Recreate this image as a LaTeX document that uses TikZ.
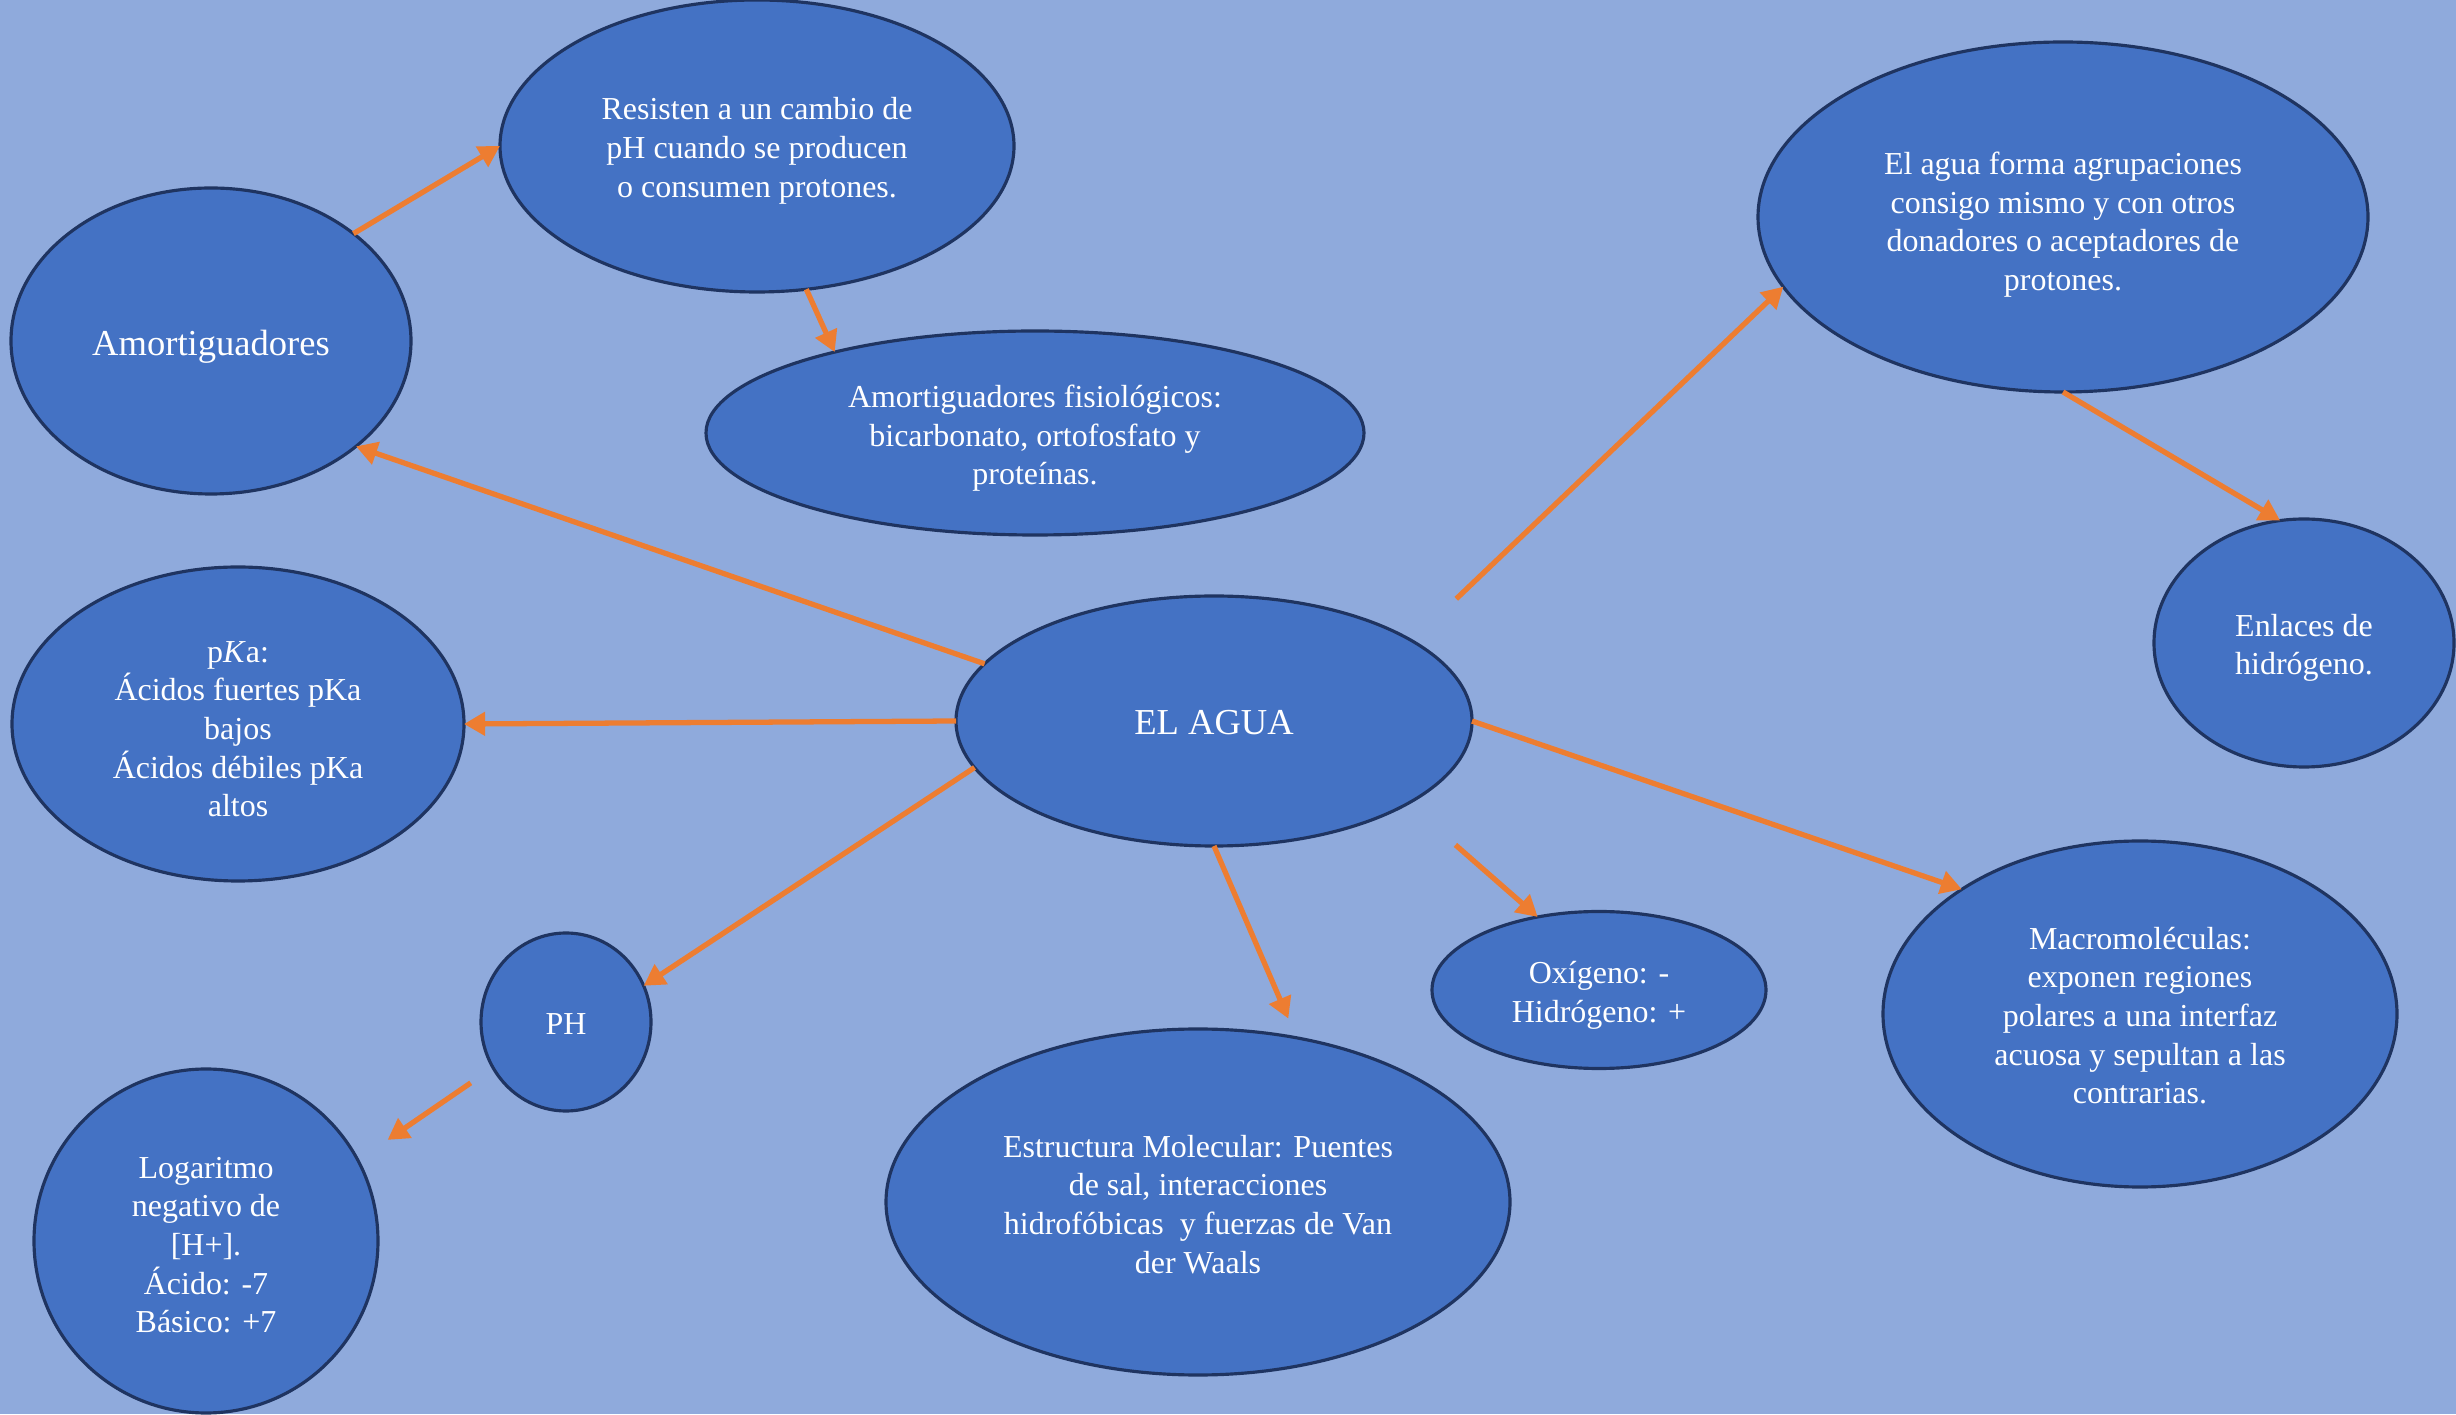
\documentclass[tikz,border=0pt]{standalone}
\usepackage{fontspec}
\setmainfont{Liberation Serif}
\usetikzlibrary{shapes.geometric,arrows.meta}
\definecolor{bg}{HTML}{8FAADC}
\definecolor{bub}{HTML}{4472C4}
\definecolor{edge}{HTML}{1F3461}
\definecolor{arr}{HTML}{ED7D31}
\newcommand\mynudge[1]{\rule{0pt}{#1}}
\begin{document}
\begin{tikzpicture}[
  bubble/.style={ellipse, draw=edge, line width=0.9pt, fill=bub, text=white,
    inner sep=0pt, outer sep=0pt, align=center,
    font=\fontsize{9.1}{11}\selectfont},
  big/.style={font=\fontsize{10.4}{12}\selectfont},
  link/.style={draw=arr, line width=1.5pt, -{Triangle[length=6pt,width=6.5pt]}}
]
\useasboundingbox (0,0) rectangle (24.56,14.14);
\fill[bg] (0,0) rectangle (24.56,14.14);

\node[bubble, big, minimum width=4.00cm, minimum height=3.06cm] (amort) at (2.11,10.73) {\mynudge{10.7pt}Amortiguadores};
\node[bubble, minimum width=5.14cm, minimum height=2.92cm] (resist) at (7.57,12.68) {\mynudge{9.0pt}Resisten a un cambio de\\pH cuando se producen\\o consumen protones.};
\node[bubble, minimum width=6.58cm, minimum height=2.04cm] (fisio) at (10.35,9.81) {\mynudge{9.4pt}Amortiguadores fisiológicos:\\bicarbonato, ortofosfato y\\proteínas.};
\node[bubble, minimum width=4.52cm, minimum height=3.14cm] (pka) at (2.38,6.90) {\mynudge{9.0pt}p\textit{K}a:\\Ácidos fuertes pKa\\bajos\\Ácidos débiles pKa\\altos};
\node[bubble, big, minimum width=5.16cm, minimum height=2.50cm] (agua) at (12.14,6.93) {\mynudge{7.8pt}EL AGUA};
\node[bubble, minimum width=6.10cm, minimum height=3.50cm] (forma) at (20.63,11.97) {\mynudge{10.8pt}El agua forma agrupaciones\\consigo mismo y con otros\\donadores o aceptadores de\\protones.};
\node[bubble, minimum width=3.00cm, minimum height=2.48cm] (enl) at (23.04,7.71) {\mynudge{9.0pt}Enlaces de\\hidrógeno.};
\node[bubble, minimum width=1.70cm, minimum height=1.78cm] (ph) at (5.66,3.92) {\mynudge{6.9pt}PH};
\node[bubble, minimum width=3.44cm, minimum height=3.44cm] (log) at (2.06,1.73) {\mynudge{8.4pt}Logaritmo\\negativo de\\{[}H+{]}.\\Ácido: -7\\Básico: +7};
\node[bubble, minimum width=6.24cm, minimum height=3.46cm] (estr) at (11.98,2.12) {\mynudge{7.6pt}Estructura Molecular: Puentes\\de sal, interacciones\\hidrofóbicas\ \ y fuerzas de Van\\der Waals};
\node[bubble, minimum width=3.34cm, minimum height=1.57cm] (oxi) at (15.99,4.24) {\mynudge{9.4pt}Oxígeno: -\\Hidrógeno: +};
\node[bubble, minimum width=5.14cm, minimum height=3.46cm] (macro) at (21.40,4.00) {\mynudge{7.2pt}Macromoléculas:\\exponen regiones\\polares a una interfaz\\acuosa y sepultan a las\\contrarias.};

\draw[link] (amort.37) -- (resist.180);
\draw[link] (resist.-71) -- (fisio.158);
\draw[link] (agua.166) -- (amort.-36);
\draw[link] (agua.180) -- (pka.0);
\draw[link] (agua.191) -- (ph.25);
\draw[link, shorten <=0.27cm, shorten >=0.36cm] (ph.212) -- (log.28);
\draw[link, shorten >=0.21cm] (agua.-90) -- (estr.59.3);
\draw[link, shorten <=0.63cm] (agua.-23) -- (oxi.130);
\draw[link] (agua.0) -- (macro.145);
\draw[link, shorten <=0.61cm] (agua.22.3) -- (forma.194.5);
\draw[link] (forma.-90) -- (enl.101);
\end{tikzpicture}
\end{document}
